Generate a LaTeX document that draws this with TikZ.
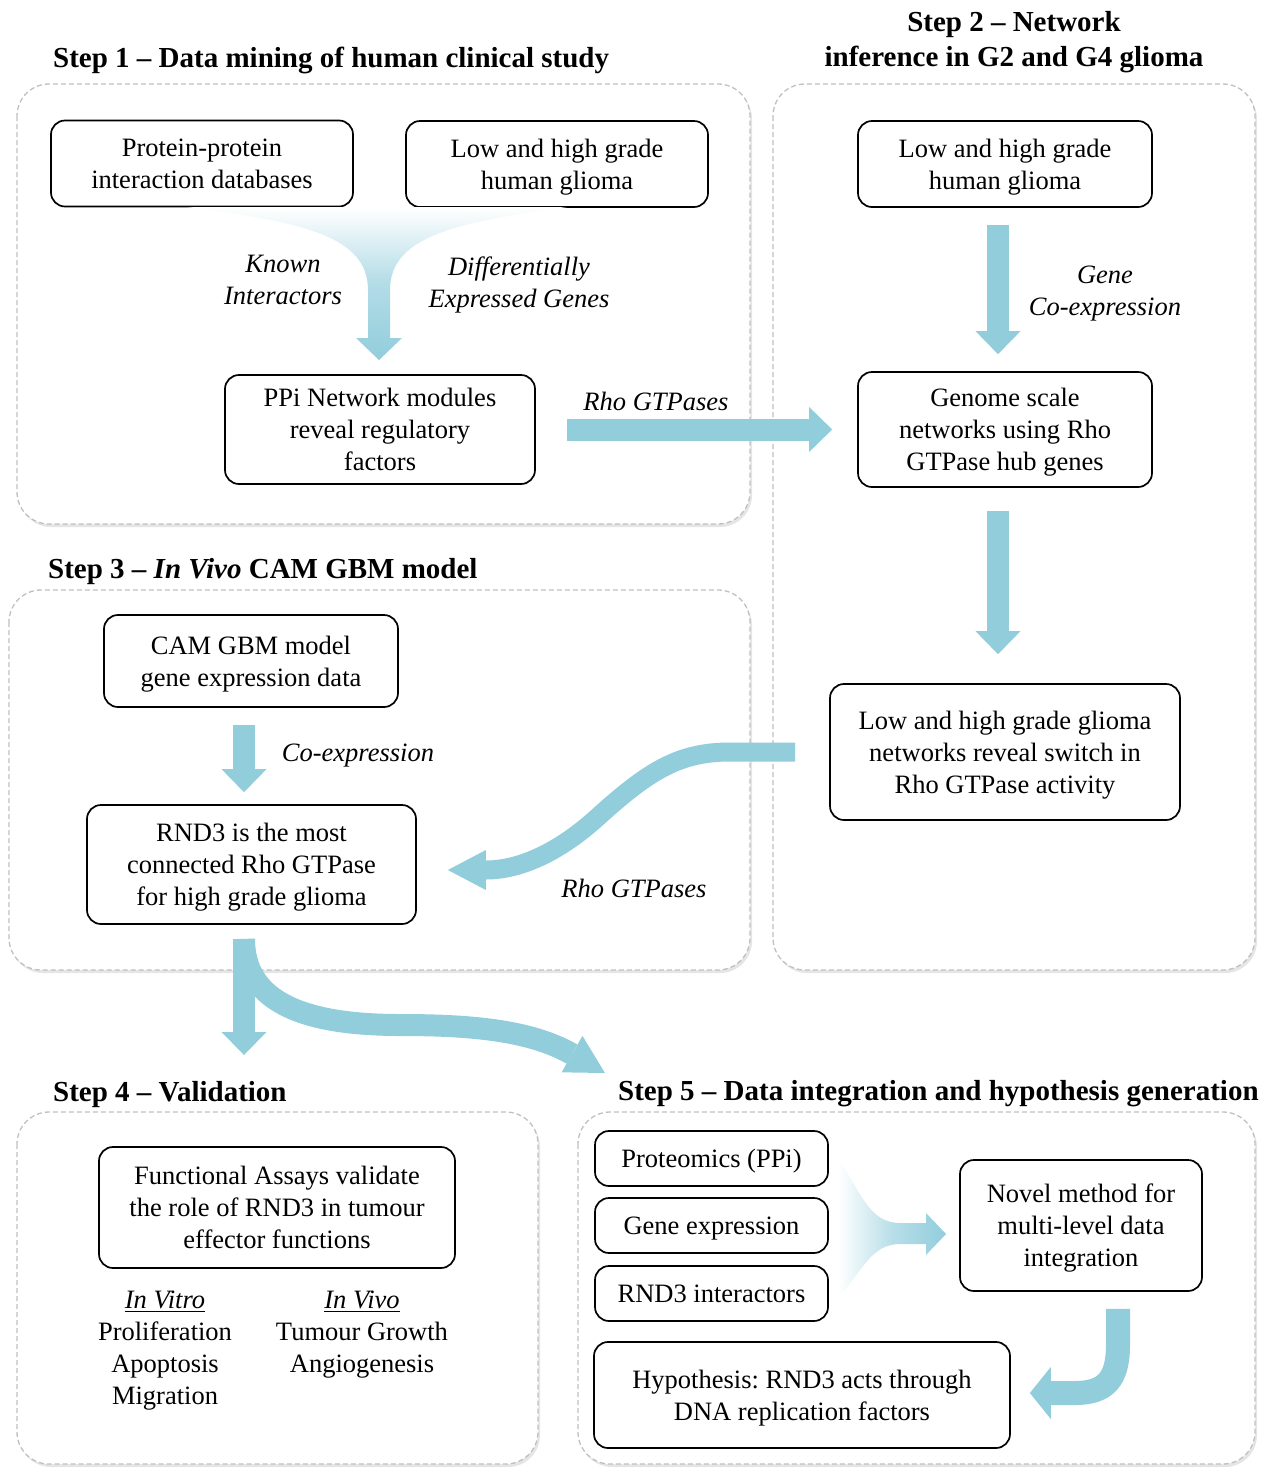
\documentclass[tikz,border=0pt]{standalone}
\usepackage{fontspec}
\setmainfont{Liberation Serif}
\usetikzlibrary{arrows.meta,calc,shadows}
\definecolor{arrowblue}{RGB}{146,205,220}
\definecolor{framegray}{RGB}{192,192,192}
\newcommand\bodyfnt{\fontsize{26.5}{32}\selectfont}
\newcommand\titlefnt{\fontsize{29}{35}\selectfont\bfseries}
\newcommand\tx[1]{\raisebox{-3pt}[\height][\depth]{\begin{tabular}{@{}c@{}}#1\end{tabular}}}
\frenchspacing
\begin{document}
\begin{tikzpicture}[x=1pt,y=-1pt,
  frame/.style={draw=framegray, dash pattern=on 5pt off 3pt, line width=1.3pt, rounded corners=32pt, fill=white,
    drop shadow={shadow xshift=2pt, shadow yshift=-3pt, opacity=0.10, fill=black}},
  box/.style={draw, line width=1.7pt, rounded corners=14pt, inner sep=0pt, font=\bodyfnt, fill=white},
  lab/.style={align=center, inner sep=0pt, font=\bodyfnt\itshape},
  plain/.style={align=center, inner sep=0pt, font=\bodyfnt},
  ttl/.style={inner sep=0pt, font=\titlefnt, align=center},
  fat/.style={draw=arrowblue, line width=22pt, -{Triangle[length=23pt,width=45pt,line width=0pt]}},
]
\useasboundingbox (0,0) rectangle (1267,1468);

% frames
\path[frame] (17,84) rectangle (750,524);
\path[frame] (773,84) rectangle (1255,970);
\path[frame] (9,590) rectangle (750,970);
\path[frame] (17,1112) rectangle (538,1464);
\path[frame] (578,1112) rectangle (1255,1464);

% titles
\node[ttl, anchor=west] (t1) at (53,60) {Step 1 -- Data mining of human clinical study};
\node[ttl] (t2) at (1014,42.5) {Step 2 -- Network\\inference in G2 and G4 glioma};
\node[ttl, anchor=west] (t3) at (48,572) {Step 3 -- \textit{In Vivo} CAM GBM model};
\node[ttl, anchor=west] (t4) at (53,1094.5) {Step 4 -- Validation};
\node[ttl, anchor=west] (t5) at (618,1094) {Step 5 -- Data integration and hypothesis generation};

% step 1
\node[box, minimum width=302pt, minimum height=86pt] (s1a) at (202,163.5) {\tx{Protein-protein\\interaction databases}};
\node[box, minimum width=302pt, minimum height=86pt] (s1b) at (557,164) {\tx{Low and high grade\\human glioma}};
\node[box, minimum width=310pt, minimum height=109pt] (s1c) at (380,429.5) {\tx{PPi Network modules\\reveal regulatory\\factors}};

% step 2
\node[box, minimum width=294pt, minimum height=86pt] (s2a) at (1005,164) {\tx{Low and high grade\\human glioma}};
\node[box, minimum width=294pt, minimum height=115pt] (s2b) at (1005,429.5) {\tx{Genome scale\\networks using Rho\\GTPase hub genes}};
\node[box, minimum width=350pt, minimum height=136pt] (s2c) at (1005,752) {\tx{Low and high grade glioma\\networks reveal switch in\\Rho GTPase activity}};

% step 3
\node[box, minimum width=294pt, minimum height=92pt] (s3a) at (251,661) {\tx{CAM GBM model\\gene expression data}};
\node[box, minimum width=329pt, minimum height=119pt] (s3b) at (251.5,864.5) {\tx{RND3 is the most\\connected Rho GTPase\\for high grade glioma}};

% step 4
\node[box, minimum width=356pt, minimum height=121pt] (s4a) at (277,1207.5) {\tx{Functional Assays validate\\the role of RND3 in tumour\\effector functions}};
\node[plain] (v1) at (165,1351) {\underline{\textit{In Vitro}}\\Proliferation\\Apoptosis\\Migration};
\node[plain] (v2) at (362,1335) {\underline{\textit{In Vivo}}\\Tumour Growth\\Angiogenesis};

% step 5
\node[box, minimum width=233pt, minimum height=55pt] (s5a) at (711.5,1158.5) {\tx{Proteomics (PPi)}};
\node[box, minimum width=233pt, minimum height=55pt] (s5b) at (711.5,1225.5) {\tx{Gene expression}};
\node[box, minimum width=233pt, minimum height=55pt] (s5c) at (711.5,1293.5) {\tx{RND3 interactors}};
\node[box, minimum width=242pt, minimum height=131pt] (s5d) at (1081,1225.5) {\tx{Novel method for\\multi-level data\\integration}};
\node[box, minimum width=416pt, minimum height=106pt] (s5e) at (802,1395) {\tx{Hypothesis: RND3 acts through\\DNA replication factors}};

% labels
\node[lab] (l1) at (283,280) {Known\\Interactors};
\node[lab] (l2) at (519,285) {Differentially\\Expressed Genes};
\node[lab] (l3) at (656,401) {Rho GTPases};
\node[lab] (l4) at (1105,294) {Gene\\Co-expression};
\node[lab] (l5) at (358,756) {Co-expression};
\node[lab] (l6) at (634,888) {Rho GTPases};

% funnels
\shade[top color=white, bottom color=arrowblue, middle color=arrowblue!70]
  (187,207) .. controls (300,222) and (368,235) .. (368,290) -- (368,338) -- (356,338) -- (379,360)
  -- (402,338) -- (390,338) -- (390,290) .. controls (390,235) and (460,222) .. (567,207) -- cycle;
\shade[left color=white, right color=arrowblue, middle color=arrowblue!65]
  (838,1158) .. controls (862,1195) and (870,1223) .. (900,1223) -- (926,1223) -- (926,1213) -- (946,1234)
  -- (926,1255) -- (926,1244) -- (900,1244) .. controls (870,1244) and (862,1273) .. (838,1297) -- cycle;

% straight arrows
\draw[fat] ($(s1c.east)+(31,0)$) -- ($(s2b.west)+(-25,0)$);
\draw[fat] ($(s2a.south)+(-7,17)$) -- ($(s2b.north)+(-7,-17)$);
\draw[fat] ($(s2b.south)+(-7,23)$) -- ($(s2c.north)+(-7,-29)$);
\draw[fat] ($(s3a.south)+(-7,17)$) -- ($(s3b.north)+(-7.5,-12)$);
\coordinate (s4in) at (244,1055);
\draw[fat] ($(s3b.south)+(-7.5,14)$) -- (s4in);

% curved arrows
\draw[draw=arrowblue, line width=19pt, -{Triangle[length=38pt,width=40pt,line width=0pt]}]
  ($(s2c.west)+(-34,0)$) -- (730,752) .. controls (680,752) and (650,770) .. (600,815)
  .. controls (560,852) and (520,870) .. ($(s3b.east)+(31,5.5)$);
\coordinate (s5in) at (605,1073);
\draw[draw=arrowblue, line width=22pt, -{Triangle[length=38pt,width=42pt,line width=0pt]}]
  ($(s3b.south)+(-7.5,14)$) .. controls (244,1000) and (300,1025) .. (400,1025)
  .. controls (470,1025) and (530,1030) .. (s5in);
\draw[draw=arrowblue, line width=24pt, -{Triangle[length=21pt,width=52pt,line width=0pt]}]
  ($(s5d.south)+(37,17)$) -- (1118,1345) .. controls (1118,1380) and (1105,1393) .. (1075,1393)
  -- ($(s5e.east)+(19,-2)$);
\end{tikzpicture}
\end{document}
